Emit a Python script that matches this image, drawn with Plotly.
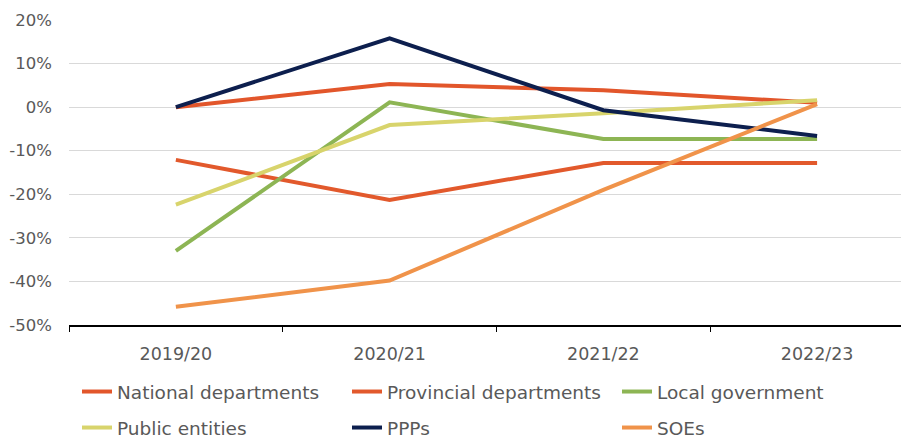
import plotly.graph_objects as go

categories = ["2019/20", "2020/21", "2021/22", "2022/23"]
national = [0.0, 5.3, 3.9, 1.0]
provincial = [-12.1, -21.3, -12.8, -12.8]
local_gov = [-33.0, 1.1, -7.3, -7.3]
public_entities = [-22.4, -4.1, -1.4, 1.6]
ppps = [0.0, 15.8, -0.7, -6.6]
soes = [-45.8, -39.8, -19.0, 0.7]

y_tick_vals = [20, 10, 0, -10, -20, -30, -40, -50]
y_tick_text = ["20%", "10%", "0%", "-10%", "-20%", "-30%", "-40%", "-50%"]

series = [
    ("National departments", national, "#E2562B", "legend"),
    ("Provincial departments", provincial, "#E2592C", "legend"),
    ("Local government", local_gov, "#8DB554", "legend"),
    ("Public entities", public_entities, "#D8D46C", "legend2"),
    ("PPPs", ppps, "#0D1F4E", "legend2"),
    ("SOEs", soes, "#F0934A", "legend2"),
]

fig = go.Figure()
for name, vals, col, leg in series:
    fig.add_trace(go.Scatter(x=categories, y=vals, name=name, mode="lines",
                             line=dict(color=col, width=4), legend=leg))

font_family = "'DejaVu Sans', sans-serif"
txt = "#595959"
H = 437.0
leg_common = dict(orientation="h", xref="container", yref="container",
                  x=69 / 909, xanchor="left", yanchor="middle",
                  entrywidth=225, entrywidthmode="pixels",
                  font=dict(size=18.5, color=txt, family=font_family),
                  traceorder="normal", bgcolor="rgba(0,0,0,0)")
fig.update_layout(
    width=909, height=437,
    margin=dict(l=61, r=8, t=12, b=120, autoexpand=False),
    paper_bgcolor="white", plot_bgcolor="white",
    font=dict(family=font_family, size=17.5, color=txt),
    showlegend=True,
    legend=dict(leg_common, y=1 - 384 / H),
    legend2=dict(leg_common, y=1 - 420 / H),
    xaxis=dict(type="category", range=[-0.5, 3.43], showgrid=False,
               showline=True, linecolor="#000000", linewidth=1.5,
               ticks="outside", tickson="boundaries", ticklen=5, tickcolor="#000000",
               ticklabelstandoff=12, automargin=False,
               tickfont=dict(size=17.5, color=txt)),
    yaxis=dict(range=[-50, 20], tickvals=y_tick_vals, ticktext=y_tick_text,
               showgrid=True, gridcolor="#D9D9D9", gridwidth=1, zeroline=False,
               showline=False, ticklabelstandoff=16, automargin=False,
               tickfont=dict(size=16.5, color=txt)),
)
fig.write_html("out.html")
